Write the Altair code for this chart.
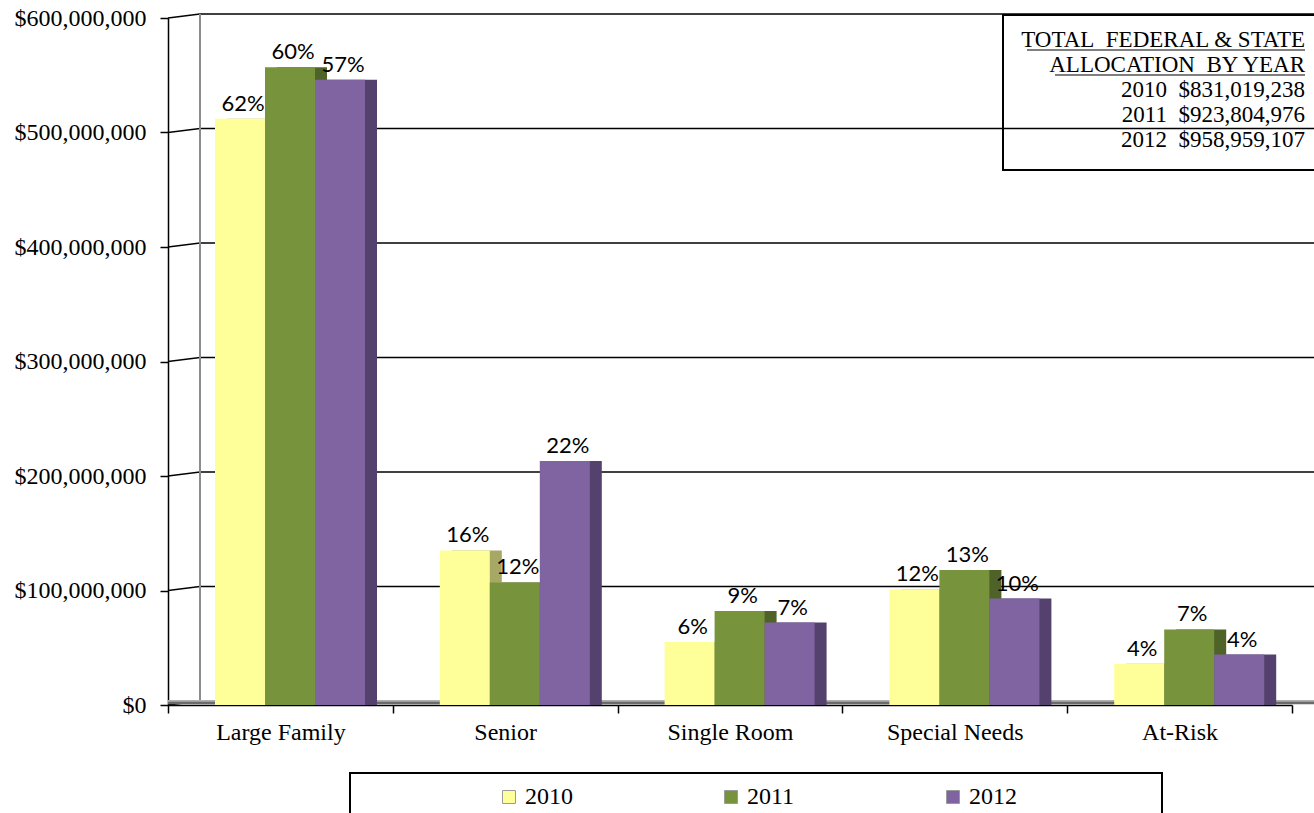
import altair as alt
import pandas as pd

# Tax-credit allocation by housing type and year
categories = ["Large Family", "Senior", "Single Room", "Special Needs", "At-Risk"]
years = ["2010", "2011", "2012"]

alloc_2010 = [512_000_000, 135_000_000, 55_000_000, 101_000_000, 36_000_000]
alloc_2011 = [557_000_000, 107_000_000, 82_000_000, 118_000_000, 66_000_000]
alloc_2012 = [546_000_000, 213_000_000, 72_000_000, 93_000_000, 44_000_000]

share_2010 = ["62%", "16%", "6%", "12%", "4%"]
share_2011 = ["60%", "12%", "9%", "13%", "7%"]
share_2012 = ["57%", "22%", "7%", "10%", "4%"]

y_ticks = [0, 100_000_000, 200_000_000, 300_000_000, 400_000_000, 500_000_000, 600_000_000]

totals_lines = [
    "TOTAL\u00a0 FEDERAL & STATE",
    "ALLOCATION\u00a0 BY YEAR",
    "2010\u00a0 $831,019,238",
    "2011\u00a0 $923,804,976",
    "2012\u00a0 $958,959,107",
]

front_colors = ["#FFFF99", "#77933C", "#8064A2"]
side_colors = ["#A8A866", "#4F6228", "#55416E"]

rows = []
for i, cat in enumerate(categories):
    for yr, vals, shares in zip(years, [alloc_2010, alloc_2011, alloc_2012],
                                [share_2010, share_2011, share_2012]):
        rows.append({"category": cat, "year": yr, "amount": vals[i], "share": shares[i]})
df = pd.DataFrame(rows)
ticks_df = pd.DataFrame({"amount": y_ticks})
one = pd.DataFrame({"k": [0]})

W, H = 1146, 687
BAND_SPAN = 1124
SERIF = "Liberation Serif"

x_scale = alt.Scale(domain=categories, range=[0, BAND_SPAN], paddingInner=0, paddingOuter=0)
y_scale = alt.Scale(domain=[0, 600_000_000])
front_offset = alt.Scale(domain=years, range=[47, 197], paddingInner=0, paddingOuter=0)
side_offset = alt.Scale(domain=years, range=[59, 209], paddingInner=0, paddingOuter=0)
label_offset = alt.Scale(type="point", domain=years, range=[72, 172], padding=0)

x_axis = alt.Axis(title=None, labelFont=SERIF, labelFontSize=24, labelColor="black",
                  labelPadding=7, tickSize=8, tickColor="black", tickWidth=1.5,
                  tickBand="extent", domainColor="black", domainWidth=1.5, labelAngle=0,
                  grid=False)
y_axis = alt.Axis(title=None, values=y_ticks, format="$,.0f", labelFont=SERIF,
                  labelFontSize=24, labelColor="black", labelPadding=14, tickSize=8,
                  tickColor="black", tickWidth=1.5, domainColor="black", domainWidth=1.5,
                  grid=False)


def x_enc():
    return alt.X("category:N", scale=x_scale, axis=x_axis)


def y_enc():
    return alt.Y("amount:Q", scale=y_scale, axis=y_axis)


# back-wall gridlines and the short perspective connectors to the axis
grid = alt.Chart(ticks_df).transform_filter("datum.amount > 0").mark_rule(
    color="black", strokeWidth=1.5, yOffset=-4).encode(
    x=alt.value(32), x2=alt.value(W), y=y_enc())
connectors = alt.Chart(ticks_df).mark_rule(
    color="black", strokeWidth=1.5, yOffset=0, y2Offset=-4).encode(
    x=alt.value(0), x2=alt.value(32), y=y_enc(), y2="amount:Q")
back_wall = alt.Chart(one).mark_rule(color="#8c8c8c", strokeWidth=2).encode(
    x=alt.value(32), y=alt.value(-4), y2=alt.value(H - 5))
floor = alt.Chart(one).mark_rect(color="#b0b0b0").encode(
    x=alt.value(0), x2=alt.value(W), y=alt.value(H - 5), y2=alt.value(H - 1))
floor_edge = alt.Chart(one).mark_rule(color="#6a6a6a", strokeWidth=2.5).encode(
    x=alt.value(0), x2=alt.value(W), y=alt.value(H - 2))

sides = alt.Chart(df).mark_bar().encode(
    x=x_enc(),
    xOffset=alt.XOffset("year:N", scale=side_offset),
    y=y_enc(),
    color=alt.Color("year:N", scale=alt.Scale(domain=years, range=side_colors), legend=None),
)

fronts = alt.Chart(df).mark_bar().encode(
    x=x_enc(),
    xOffset=alt.XOffset("year:N", scale=front_offset),
    y=y_enc(),
    color=alt.Color("year:N", scale=alt.Scale(domain=years, range=front_colors),
                    legend=alt.Legend(title=None, orient="none", legendX=329, legendY=767,
                                      direction="horizontal", symbolType="square",
                                      symbolSize=169, symbolStrokeColor="#9a9a9a",
                                      symbolStrokeWidth=1, labelFont=SERIF,
                                      labelFontSize=24, labelColor="black", labelOffset=4,
                                      columnPadding=146)),
)

labels = alt.Chart(df).mark_text(font="Lato", fontSize=22, color="black",
                                 baseline="alphabetic", dy=-8, dx=3).encode(
    x=x_enc(),
    xOffset=alt.XOffset("year:N", scale=label_offset),
    y=y_enc(),
    text="share:N",
)

# totals box in the upper right
totals_box = alt.Chart(one).mark_rect(fill=None, stroke="black", strokeWidth=2).encode(
    x=alt.value(835), x2=alt.value(W + 20), y=alt.value(-3), y2=alt.value(152))
totals_text = alt.Chart(one).mark_text(font=SERIF, fontSize=23, color="black", align="right",
                                       baseline="middle", lineHeight=25).encode(
    x=alt.value(1137), y=alt.value(22), text=alt.value(totals_lines))
underline_1 = alt.Chart(one).mark_rule(color="black", strokeWidth=1.2).encode(
    x=alt.value(859), x2=alt.value(1137), y=alt.value(32))
underline_2 = alt.Chart(one).mark_rule(color="black", strokeWidth=1.2).encode(
    x=alt.value(887), x2=alt.value(1137), y=alt.value(57))

legend_box = alt.Chart(one).mark_rect(fill=None, stroke="black", strokeWidth=2).encode(
    x=alt.value(182), x2=alt.value(994), y=alt.value(755), y2=alt.value(810))

chart = alt.layer(
    grid, connectors, back_wall, floor, floor_edge, sides, fronts, labels,
    totals_box, totals_text, underline_1, underline_2, legend_box,
).resolve_scale(
    xOffset="independent", color="independent"
).properties(
    width=W, height=H,
    autosize=alt.AutoSizeParams(type="none"),
    padding={"left": 168, "top": 18, "right": 0, "bottom": 108},
    background="white",
).configure_view(stroke=None)

chart.save("out.html", embed_options={"renderer": "svg", "actions": False})
